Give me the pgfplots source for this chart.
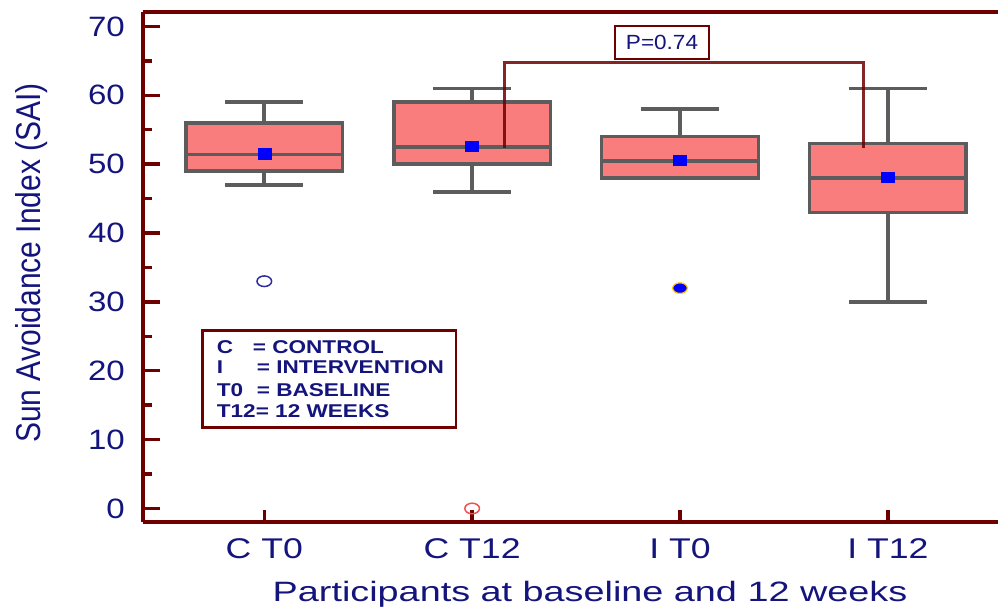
\documentclass[border=0pt]{standalone}
\usepackage{fontspec}
\setmainfont{Liberation Sans}
\newfontfamily\ytfont{Liberation Sans}[FakeStretch=1.18]
\newfontfamily\xtfont{Liberation Sans}[FakeStretch=1.25]
\newfontfamily\xlfont{Liberation Sans}[FakeStretch=1.35]
\newfontfamily\legfont{Liberation Sans}[FakeStretch=1.22]
\newfontfamily\pfont{Liberation Sans}[FakeStretch=1.1]
\usepackage{graphicx}
\usepackage{pgfplots}
\pgfplotsset{compat=1.18}
\usepgfplotslibrary{statistics}

\definecolor{axred}{RGB}{110,0,0}
\definecolor{navytext}{RGB}{20,20,125}
\definecolor{boxgray}{RGB}{92,92,92}
\definecolor{boxfill}{RGB}{250,125,125}
\definecolor{outnavy}{RGB}{45,45,165}
\definecolor{outred}{RGB}{240,80,80}
\definecolor{outedge}{RGB}{255,200,0}

\pgfplotsset{
    sai box/.style={
        boxplot/draw direction=y,
        boxplot/every box/.style={draw=boxgray, line width=3.6pt, fill=boxfill},
        boxplot/every whisker/.style={draw=boxgray, line width=3.6pt},
        boxplot/every median/.style={draw=boxgray, line width=3.6pt},
        boxplot/box extend=0.754,
        boxplot/whisker extend=0.376,
    },
}

\begin{document}
\begin{tikzpicture}
\useasboundingbox (0pt,0pt) rectangle (998pt,608pt);
\begin{axis}[
    at={(142.7pt,86.3pt)}, anchor=south west,
    scale only axis,
    width=855.3pt, height=509.7pt,
    xmin=-0.585, xmax=3.53,
    ymin=-1.92, ymax=72.1,
    axis x line=bottom, axis y line=left,
    axis line style={-, line width=3.6pt, draw=axred},
    tick align=inside,
    major tick length=17pt,
    minor tick length=9pt,
    tick style={line width=3.4pt, draw=axred},
    xtick style={/pgfplots/major tick length=12pt},
    xtick={0,1,2,3},
    xticklabels={C T0, C T12, I T0, I T12},
    ytick={0,10,...,70},
    minor y tick num=1,
    /pgf/number format/assume math mode=true,
    xticklabel style={font=\xtfont\fontsize{28.5}{30}\selectfont, text=navytext, anchor=base, inner sep=0pt, yshift=-36.6pt},
    yticklabel style={font=\ytfont\fontsize{28}{30}\selectfont, text=navytext, anchor=east, inner sep=0pt, xshift=-17.7pt},
    clip=false,
]
% C T0
\addplot[sai box, boxplot prepared={draw position=0,
    lower whisker=47, lower quartile=49, median=51.4,
    upper quartile=56, upper whisker=59},
    mark=o, mark size=5.3pt, mark options={xscale=1.38, draw=outnavy, line width=1.5pt}]
    table[row sep=\\, y index=0] {y\\ 33\\};
% C T12
\addplot[sai box, boxplot prepared={draw position=1,
    lower whisker=46, lower quartile=50, median=52.5,
    upper quartile=59, upper whisker=61},
    mark=o, mark size=5.3pt, mark options={xscale=1.38, draw=outred, line width=1.5pt}]
    table[row sep=\\, y index=0] {y\\ 0\\};
% I T0
\addplot[sai box, boxplot prepared={draw position=2,
    lower whisker=48, lower quartile=48, median=50.5,
    upper quartile=54, upper whisker=58},
    mark=*, mark size=5.3pt, mark options={xscale=1.38, fill=blue, draw=outedge, line width=1.2pt}]
    table[row sep=\\, y index=0] {y\\ 32\\};
% I T12 (no outliers)
\addplot[sai box, boxplot prepared={draw position=3,
    lower whisker=30, lower quartile=43, median=48,
    upper quartile=53, upper whisker=61}, mark=none]
    table[row sep=\\, y index=0] {y\\ 48\\};
% bracket
\draw[axred, opacity=0.85, line width=3pt]
    (axis cs:1.154,52.4) -- (axis cs:1.154,64.8) -- (axis cs:2.884,64.8) -- (axis cs:2.884,52.4);
% means
\addplot[only marks, mark=square*, mark size=5.2pt,
    mark options={xscale=1.25, fill=blue, draw=blue}]
    coordinates {(0,51.5) (1,52.6) (2,50.6) (3,48.1)};
\end{axis}
% top frame line
\draw[axred, line width=3.6pt] (142.7pt,596pt) -- (998pt,596pt);
% P value box
\node[draw=axred, line width=2.6pt, minimum width=94pt, minimum height=33pt, inner sep=0pt,
    text=navytext, font=\pfont\fontsize{20.5}{22}\selectfont] at (662pt,565.3pt) {P=0.74};
% key box
\draw[axred, line width=2.6pt] (202.7pt,277.3pt) rectangle (456pt,180.3pt);
\begin{scope}[every node/.style={anchor=base west, inner sep=0pt, text=navytext,
    font=\legfont\bfseries\fontsize{18.5}{20}\selectfont}]
\node at (216.7pt,254.7pt) {C};
\node at (252.7pt,254.7pt) {= CONTROL};
\node at (216.7pt,234pt) {I};
\node at (256.7pt,234pt) {= INTERVENTION};
\node at (216.7pt,211.3pt) {T0};
\node at (256.7pt,211.3pt) {= BASELINE};
\node at (216.7pt,190.3pt) {T12= 12 WEEKS};
\end{scope}
% axis titles
\node[anchor=base, inner sep=0pt, text=navytext, font=\xlfont\fontsize{28}{30}\selectfont]
    at (590pt,7pt) {Participants at baseline and 12 weeks};
\node[anchor=base, rotate=90, inner sep=0pt, text=navytext, font=\fontsize{30}{32}\selectfont]
    at (40pt,345pt) {\scalebox{1}[1.15]{Sun Avoidance Index (SAI)}};
\end{tikzpicture}
\end{document}
